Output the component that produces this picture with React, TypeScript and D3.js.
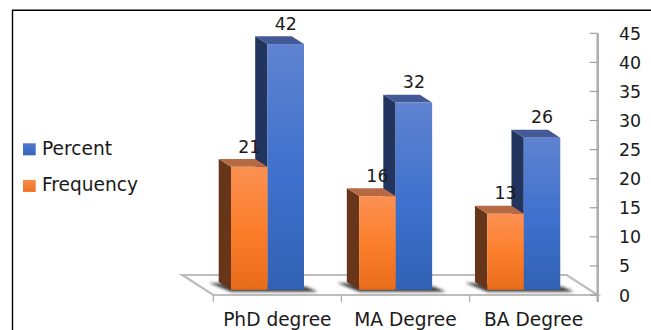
import React from "react";
import * as d3 from "d3";

// Survey respondents by highest degree held
const categories = ["PhD degree", "MA Degree", "BA Degree"];
const percentValues = [42, 32, 26];
const frequencyValues = [21, 16, 13];
const seriesNames = ["Percent", "Frequency"];
const axisTicks = [0, 5, 10, 15, 20, 25, 30, 35, 40, 45];

const W = 651;
const H = 330;
const FONT = "'DejaVu Sans', sans-serif";
const INK = "#1a1a1a";

// Oblique projection: the depth of the 3D columns and of the floor
const DEPTH = { dx: -12.3, dy: -7.8 };
const FLOOR = { dx: -31, dy: -20 };

const xCat = d3.scaleBand().domain(categories).range([213.3, 597.7]);
const xSeries = d3.scaleBand().domain(["Frequency", "Percent"]).range([17.7, 90.7]);
const yAxis = d3.scaleLinear().domain([0, 45]).range([295, 33.3]);
// Columns stand further back on the floor than the axis plane
const yBar = d3.scaleLinear().domain([0, 45]).range([289.7, 26.5]);

const palette: Record<string, any> = {
  Percent: { side: "#22355f", top: "#435a97", grad: "url(#gradPercent)", swatch: "url(#swatchPercent)" },
  Frequency: { side: "#67361a", top: "#b66a43", grad: "url(#gradFrequency)", swatch: "url(#swatchFrequency)" },
};

const pts = (list: number[][]) => list.map((p) => p.join(",")).join(" ");

function Column({ cat, series, value }: { cat: string; series: string; value: number }) {
  const x0 = xCat(cat)! + xSeries(series)!;
  const x1 = x0 + xSeries.bandwidth();
  const y0 = yBar(value);
  const yb = yBar(0);
  const c = palette[series];
  const { dx, dy } = DEPTH;
  return (
    <g>
      <polygon fill={c.side} points={pts([[x0, y0], [x0 + dx, y0 + dy], [x0 + dx, yb + dy], [x0, yb]])} />
      <polygon fill={c.top} points={pts([[x0, y0], [x0 + dx, y0 + dy], [x1 + dx, y0 + dy], [x1, y0]])} />
      <rect x={x0} y={y0} width={x1 - x0} height={yb - y0} fill={c.grad} />
    </g>
  );
}

function Shadow({ cat }: { cat: string }) {
  const x0 = xCat(cat)! + xSeries.range()[0];
  const x1 = xCat(cat)! + xSeries.range()[1];
  const yb = yBar(0);
  return (
    <polygon
      fill="#1c1c1c"
      opacity={0.85}
      filter="url(#floorShadow)"
      points={pts([[x0 - 22, yb - 7], [x0, yb - 6], [x1 + 2, yb - 3], [x1 + 14, yb + 2], [x0, yb + 2]])}
    />
  );
}

export default function App() {
  const yb0 = yAxis(0);
  const floorLeft = xCat.range()[0];
  const floorRight = xCat.range()[1];
  const floorTicks = [...categories.map((c) => xCat(c)!), floorRight];
  return (
    <svg width={W} height={H} style={{ position: "absolute", left: 0, top: 0, background: "#fff" }} fontFamily={FONT}>
      <defs>
        <linearGradient id="gradPercent" x1="0" y1="0" x2="0" y2="1">
          <stop offset="0" stopColor="#5f83d1" />
          <stop offset="0.55" stopColor="#3e70cd" />
          <stop offset="1" stopColor="#3162b4" />
        </linearGradient>
        <linearGradient id="gradFrequency" x1="0" y1="0" x2="0" y2="1">
          <stop offset="0" stopColor="#fc9053" />
          <stop offset="0.5" stopColor="#fb7f2b" />
          <stop offset="1" stopColor="#e96c1b" />
        </linearGradient>
        <linearGradient id="swatchPercent" x1="0" y1="0" x2="0" y2="1">
          <stop offset="0" stopColor="#4f78d0" />
          <stop offset="1" stopColor="#3566bc" />
        </linearGradient>
        <linearGradient id="swatchFrequency" x1="0" y1="0" x2="0" y2="1">
          <stop offset="0" stopColor="#fb8c4a" />
          <stop offset="1" stopColor="#ee711f" />
        </linearGradient>
        <filter id="floorShadow" x="-20%" y="-100%" width="140%" height="300%">
          <feGaussianBlur stdDeviation="1.5" />
        </filter>
      </defs>

      {/* page frame */}
      <line x1={12.5} y1={10} x2={12.5} y2={H} stroke="#000" strokeWidth={1.4} />
      <line x1={12} y1={10.3} x2={W} y2={10.3} stroke="#000" strokeWidth={1.4} />

      {/* floor */}
      <polygon
        fill="#fff"
        stroke="#bdbdbd"
        strokeWidth={2.2}
        points={pts([
          [floorLeft, yb0],
          [floorRight, yb0],
          [floorRight + FLOOR.dx, yb0 + FLOOR.dy],
          [floorLeft + FLOOR.dx, yb0 + FLOOR.dy],
        ])}
      />
      {floorTicks.map((x) => (
        <line key={x} x1={x} x2={x} y1={yb0} y2={yb0 + 7} stroke="#a8a8a8" strokeWidth={1.2} />
      ))}

      {/* value axis */}
      <line x1={floorRight} x2={floorRight} y1={yAxis(45)} y2={yb0 + 7} stroke="#b0b0b0" strokeWidth={2.6} />
      {axisTicks.map((t) => (
        <g key={t}>
          <line x1={floorRight - 8} x2={floorRight} y1={yAxis(t)} y2={yAxis(t)} stroke="#a0a0a0" strokeWidth={1.2} />
          <text x={619} y={yAxis(t) + 6.5} fontSize={17.4} fill={INK}>
            {t}
          </text>
        </g>
      ))}

      {/* columns */}
      {categories.map((cat) => (
        <Shadow key={cat} cat={cat} />
      ))}
      {categories.map((cat, i) => (
        <g key={cat}>
          <Column cat={cat} series="Percent" value={percentValues[i]} />
          <Column cat={cat} series="Frequency" value={frequencyValues[i]} />
        </g>
      ))}

      {/* value labels */}
      {categories.map((cat, i) =>
        [
          { s: "Percent", v: percentValues[i] },
          { s: "Frequency", v: frequencyValues[i] },
        ].map(({ s, v }) => (
          <text
            key={s}
            x={xCat(cat)! + xSeries(s)! + xSeries.bandwidth() / 2}
            y={yBar(v) - 14.3}
            textAnchor="middle"
            fontSize={17.4}
            fill={INK}
          >
            {v}
          </text>
        ))
      )}

      {/* category labels */}
      {categories.map((cat) => (
        <text key={cat} x={xCat(cat)! + xCat.bandwidth() / 2} y={326} textAnchor="middle" fontSize={18.6} fill={INK}>
          {cat}
        </text>
      ))}

      {/* legend */}
      {seriesNames.map((name, i) => (
        <g key={name} transform={`translate(23,${143.3 + i * 36.6})`}>
          <rect width={12.7} height={12} fill={palette[name].swatch} />
          <text x={19} y={11.5} fontSize={18.6} fill={INK}>
            {name}
          </text>
        </g>
      ))}
    </svg>
  );
}
